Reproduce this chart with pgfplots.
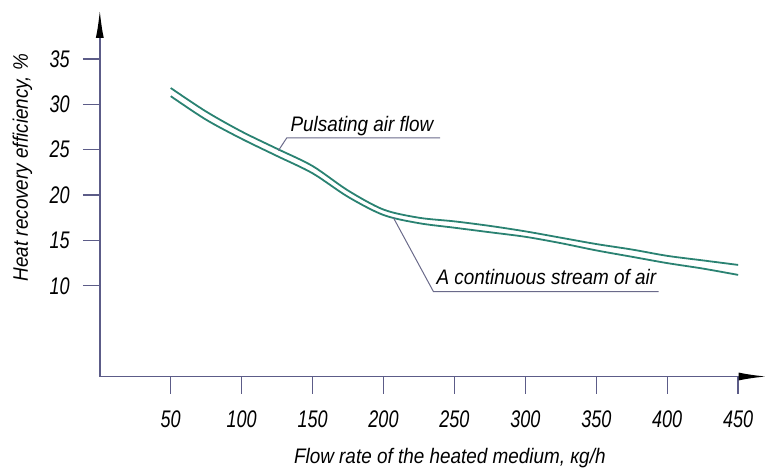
\documentclass[border=0pt]{standalone}
\usepackage{fontspec}
\setmainfont{Liberation Sans}[FakeStretch=0.9]
\newfontfamily\tickfont{Liberation Sans}[FakeStretch=0.75]
\usepackage{pgfplots}
\pgfplotsset{compat=1.18}
\usetikzlibrary{arrows.meta}

\definecolor{axiscol}{HTML}{5C5C88}
\definecolor{curvecol}{HTML}{2A8272}
\definecolor{leadcol}{HTML}{6A6A8A}

\begin{document}
\begin{tikzpicture}
\useasboundingbox (-99.8pt,-91.5pt) rectangle (667.2pt,376.5pt);
\begin{axis}[
  at={(0,0)}, anchor=south west,
  scale only axis, width=666.7pt, height=366.5pt,
  xmin=0, xmax=470, ymin=0, ymax=40.4,
  axis lines=left,
  axis line style={draw=axiscol, line width=1.6pt, -{Latex[length=28pt,width=8pt,color=black]}},
  xtick={50,100,...,450}, ytick={10,15,...,35},
  minor tick num=0,
  tick align=outside, major tick length=17pt,
  tick style={draw=axiscol, line width=1.4pt},
  /pgf/number format/assume math mode=true,
  xticklabel style={font=\tickfont\itshape\fontsize{24}{26}\selectfont, inner sep=0pt, anchor=north, yshift=-17pt},
  yticklabel style={font=\tickfont\itshape\fontsize{24}{26}\selectfont, inner sep=0pt, anchor=east, xshift=-13pt},
  clip=false,
]
% Pulsating air flow
\addplot[smooth, color=curvecol, line width=1.8pt] coordinates {
  (50,31.8) (75,29.2) (100,27.0) (125,25.1) (150,23.2) (175,20.5) (200,18.4)
  (225,17.5) (250,17.1) (275,16.6) (300,16.0) (325,15.3) (350,14.6)
  (375,14.0) (400,13.3) (425,12.8) (450,12.3)
};
% A continuous stream of air
\addplot[smooth, color=curvecol, line width=1.8pt] coordinates {
  (50,30.9) (75,28.3) (100,26.2) (125,24.3) (150,22.4) (175,19.8) (200,17.8)
  (225,16.9) (250,16.4) (275,15.9) (300,15.4) (325,14.7) (350,13.9)
  (375,13.2) (400,12.5) (425,11.9) (450,11.2)
};
\draw[leadcol, line width=1pt] (axis cs:125.9,24.9) -- (axis cs:131.8,26.3) -- (axis cs:239.9,26.3);
\node[anchor=base west, inner sep=0pt, font=\itshape\fontsize{21}{24}\selectfont] at (axis cs:134.3,27.0) {Pulsating air flow};
\draw[leadcol, line width=1pt] (axis cs:207,17.5) -- (axis cs:235.2,9.36) -- (axis cs:393.9,9.36);
\node[anchor=base west, inner sep=0pt, font=\itshape\fontsize{21}{24}\selectfont] at (axis cs:237.3,10.1) {A continuous stream of air};
\node[anchor=base, inner sep=0pt, font=\itshape\fontsize{21}{24}\selectfont] at ([yshift=-86.5pt]rel axis cs:0.525,0) {Flow rate of the heated medium, кg/h};
\node[anchor=base, rotate=90, inner sep=0pt, font=\itshape\fontsize{21}{24}\selectfont] at ([xshift=-71.8pt]rel axis cs:0,0.57) {Heat recovery efficiency, \%};
\end{axis}
\end{tikzpicture}
\end{document}
